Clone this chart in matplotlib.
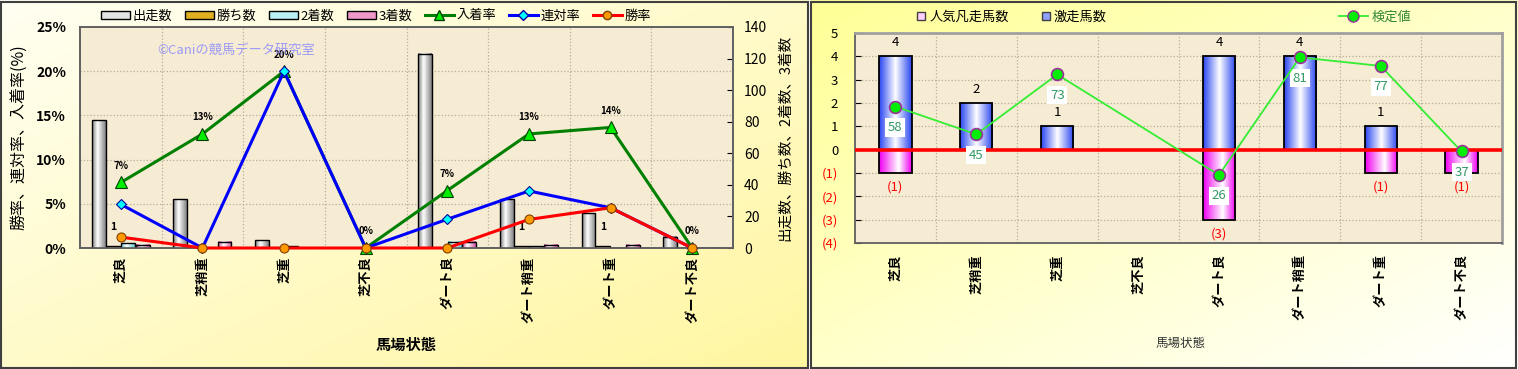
import numpy as np
import matplotlib
matplotlib.use('Agg')
import matplotlib.pyplot as plt
from matplotlib.colors import LinearSegmentedColormap, to_rgb
from matplotlib.patches import Patch, Rectangle
from matplotlib.lines import Line2D

plt.rcParams['font.family'] = ['Noto Sans CJK JP', 'DejaVu Sans']

# data
cats = ['芝良', '芝稍重', '芝重', '芝不良', 'ダート良', 'ダート稍重', 'ダート重', 'ダート不良']
starts = [81, 31, 5, 0, 123, 31, 22, 7]
wins = [1, 0, 0, 0, 0, 1, 1, 0]
seconds = [3, 0, 1, 0, 4, 1, 0, 0]
thirds = [2, 4, 0, 0, 4, 2, 2, 0]
place_rate = [7.41, 12.90, 20.00, 0.0, 6.50, 12.90, 13.64, 0.0]
quinella_rate = [4.94, 0.0, 20.00, 0.0, 3.25, 6.45, 4.55, 0.0]
win_rate = [1.23, 0.0, 0.0, 0.0, 0.0, 3.23, 4.55, 0.0]

gekiso = [4, 2, 1, 0, 4, 4, 1, 0]
bonso = [1, 0, 0, 0, 3, 0, 1, 1]
kentei = [58, 45, 73, None, 26, 81, 77, 37]

W, H = 1518, 369
fig = plt.figure(figsize=(W / 100, H / 100), dpi=100)


def grad_img(c_tl, c_br, n=200):
    a, b = np.array(to_rgb(c_tl)), np.array(to_rgb(c_br))
    xx, yy = np.meshgrid(np.linspace(0, 1, n), np.linspace(0, 1, n))
    t = ((xx + yy) / 2)[..., None]
    return a * (1 - t) + b * t


bg = fig.add_axes([0, 0, 1, 1], zorder=-10)
bg.axis('off')
bg.imshow(grad_img('#fffff2', '#fff6a0'), extent=(0, 809 / W, 0, 1), aspect='auto', origin='upper')
bg.imshow(grad_img('#ffff96', '#ffffff'), extent=(811 / W, 1, 0, 1), aspect='auto', origin='upper')
bg.set_xlim(0, 1)
bg.set_ylim(0, 1)
bg.add_patch(Rectangle((1 / W, 1 / H), 807 / W, 366 / H, fill=False, ec='#404040', lw=1.5))
bg.add_patch(Rectangle((811 / W, 1 / H), 705 / W, 366 / H, fill=False, ec='#404040', lw=1.5))


def shade(ax, bars, edge, mid='white', pos=0.45):
    cm = LinearSegmentedColormap.from_list('g', [(0, edge), (pos, mid), (1, edge)])
    g = np.linspace(0, 1, 64)[None, :]
    for b in bars:
        x0, y0 = b.get_xy()
        w, h = b.get_width(), b.get_height()
        if h == 0:
            continue
        ax.imshow(g, cmap=cm, extent=(x0, x0 + w, y0, y0 + h), aspect='auto',
                  zorder=b.get_zorder() - 0.05, interpolation='bilinear')


x = np.arange(len(cats))
plot_bg = '#f6ebd3'
grid_c = '#b8ae98'

# ---------------- left chart ----------------
ax1 = fig.add_axes([80 / W, 1 - 248 / H, 653 / W, 221 / H])
ax1.set_facecolor(plot_bg)
ax1r = ax1.twinx()
cnt_max, rate_max = 140, 25

for b in np.arange(0.5, 7.5, 1):
    ax1.axvline(b, color=grid_c, ls=':', lw=0.9, zorder=1)
for t in range(5, rate_max, 5):
    ax1.axhline(t * cnt_max / rate_max, color=grid_c, ls=':', lw=0.9, zorder=1)

bw = 0.17
series = [(starts, -0.27, '#808080'), (wins, -0.09, '#b08000'),
          (seconds, 0.09, '#60c8d0'), (thirds, 0.27, '#d050a0')]
for vals, off, col in series:
    bars = ax1.bar(x + off, vals, bw, facecolor='none', edgecolor='black', lw=1, zorder=3)
    shade(ax1, bars, col, mid='white' if col != '#b08000' else '#ffd040', pos=0.4)

for i, w_ in enumerate(wins):
    if w_ > 0:
        ax1.annotate(str(w_), (x[i] - 0.09, w_), xytext=(0, 14), textcoords='offset points',
                     ha='center', va='center', fontsize=7.5, fontweight='bold')

ax1.set_xlim(-0.5, 7.5)
ax1.set_ylim(0, cnt_max)
ax1.set_yticks(range(0, cnt_max + 1, 20))
ax1.yaxis.tick_right()
ax1.yaxis.set_label_position('right')
ax1.tick_params(axis='y', direction='in', length=4, labelsize=10, pad=8)
ax1.set_ylabel('出走数、勝ち数、2着数、3着数', fontsize=10.5, labelpad=8)
ax1.set_xticks(x, cats, rotation=90, fontweight='bold', fontsize=9.5)
ax1.tick_params(axis='x', length=0, pad=6)

ax1r.plot(x, place_rate, color='#008000', lw=2.2, marker='^', ms=8, mfc='#00ee00',
          mec='#004000', mew=0.8, zorder=3, clip_on=False)
ax1r.plot(x, quinella_rate, color='#0000ff', lw=2.2, marker='D', ms=5.5, mfc='#00ffff',
          mec='#0000a0', mew=0.8, zorder=4, clip_on=False)
ax1r.plot(x, win_rate, color='#ff0000', lw=2.2, marker='o', ms=6.5, mfc='#ff9900',
          mec='#804000', mew=0.8, zorder=5, clip_on=False)
for i, v in enumerate(place_rate):
    ax1r.annotate(f'{int(v + 0.5)}%', (x[i], v), xytext=(0, 12), textcoords='offset points',
                  ha='center', va='center', fontsize=7, fontweight='bold')
ax1r.set_ylim(0, rate_max)
ax1r.set_yticks(range(0, rate_max + 1, 5), [f'{t}%' for t in range(0, rate_max + 1, 5)])
ax1r.yaxis.tick_left()
ax1r.yaxis.set_label_position('left')
ax1r.tick_params(axis='y', length=0, labelsize=10, pad=10)
for lab in ax1r.get_yticklabels():
    lab.set_fontweight('bold')
ax1r.set_ylabel('勝率、連対率、入着率(%)', fontsize=11.5, labelpad=6)
ax1r.text(0.118, 0.896, '©Caniの競馬データ研究室', transform=ax1r.transAxes, color='#8c8cff',
          alpha=0.85, fontsize=9.5, va='center', zorder=10)
for a in (ax1, ax1r):
    for s in a.spines.values():
        s.set_color('#606060')
        s.set_linewidth(1.2)

fig.text(406 / W, 1 - 345 / H, '馬場状態', fontsize=11, fontweight='bold', ha='center', va='center')

h1 = [Patch(fc='#e4e4e4', ec='black', lw=1), Patch(fc='#e0b020', ec='black', lw=1),
      Patch(fc='#b8f0f4', ec='black', lw=1), Patch(fc='#f098c8', ec='black', lw=1),
      Line2D([], [], color='#008000', lw=2.2, marker='^', ms=7, mfc='#00ee00', mec='#004000'),
      Line2D([], [], color='#0000ff', lw=2.2, marker='D', ms=5, mfc='#00ffff', mec='#0000a0'),
      Line2D([], [], color='#ff0000', lw=2.2, marker='o', ms=6, mfc='#ff9900', mec='#804000')]
fig.legend(h1, ['出走数', '勝ち数', '2着数', '3着数', '入着率', '連対率', '勝率'], ncol=7,
           loc='center', bbox_to_anchor=(376 / W, 1 - 16 / H), frameon=False, fontsize=9.5,
           handlelength=2.2, handleheight=0.55, columnspacing=0.9, handletextpad=0.25)

# ---------------- right chart ----------------
ax2 = fig.add_axes([855 / W, 1 - 243 / H, 647 / W, 210 / H])
ax2.set_facecolor(plot_bg)
for b in np.arange(0.5, 7.5, 1):
    ax2.axvline(b, color=grid_c, ls=':', lw=0.9, zorder=1)
for t in range(-3, 5):
    ax2.axhline(t, color=grid_c, ls=':', lw=0.9, zorder=1)

neg = [-n for n in bonso]
b_pos = ax2.bar(x, gekiso, 0.4, facecolor='none', edgecolor='black', lw=1.3, zorder=3)
b_neg = ax2.bar(x, neg, 0.4, facecolor='none', edgecolor='black', lw=1.3, zorder=3)
shade(ax2, b_pos, '#2a46f0', pos=0.5)
shade(ax2, b_neg, '#f000f0', pos=0.6)
ax2.axhline(0, color='#ff0000', lw=2.6, zorder=4)
for i in range(len(cats)):
    if gekiso[i] > 0:
        ax2.annotate(str(gekiso[i]), (x[i], gekiso[i]), xytext=(0, 10), textcoords='offset points',
                     ha='center', va='center', fontsize=9.5)
    if bonso[i] > 0:
        ax2.annotate(f'({bonso[i]})', (x[i], neg[i]), xytext=(0, -10), textcoords='offset points',
                     ha='center', va='center', fontsize=9.5, color='#ff0000')

ax2.set_xlim(-0.5, 7.5)
ax2.set_ylim(-4, 5)
yt = list(range(-4, 6))
ax2.set_yticks(yt, [f'({-t})' if t < 0 else str(t) for t in yt])
for lab, t in zip(ax2.get_yticklabels(), yt):
    if t < 0:
        lab.set_color('#ff0000')
ax2.tick_params(axis='y', direction='in', length=4, labelsize=9.5, pad=12)
ax2.set_xticks(x, cats, rotation=90, fontweight='bold', fontsize=9.5)
ax2.tick_params(axis='x', length=0, pad=8)
for k, s in ax2.spines.items():
    s.set_color('#606060' if k in ('left', 'bottom') else '#a0a0a0')
    s.set_linewidth(1.3 if k in ('left', 'bottom') else 2)

ax2t = ax2.twinx()
kx = [i for i, v in enumerate(kentei) if v is not None]
kv = [kentei[i] for i in kx]
ax2t.plot(kx, kv, color='#33ee33', lw=1.3, marker='o', ms=8.5, mfc='#00ee00',
          mec='#993399', mew=1.2, zorder=5)
for i, v in zip(kx, kv):
    ax2t.annotate(str(v), (i, v), xytext=(0, -15), textcoords='offset points', ha='center',
                  va='center', fontsize=9.5, color='#339966',
                  bbox=dict(boxstyle='square,pad=0.2', fc='white', ec='none'))
ax2t.set_ylim(-5.8, 92.4)
ax2t.set_yticks([])
for s in ax2t.spines.values():
    s.set_visible(False)

fig.text(1181 / W, 1 - 343 / H, '馬場状態', fontsize=9, color='#333333', ha='center', va='center')

h2 = [Patch(fc='#ffd0ff', ec='#404040', lw=1), Patch(fc='#90a0ff', ec='#404040', lw=1)]
fig.legend(h2, ['人気凡走馬数', '激走馬数'], ncol=2, loc='center',
           bbox_to_anchor=(1012 / W, 1 - 17 / H), frameon=False, fontsize=9.5,
           handlelength=0.6, handleheight=0.6, columnspacing=2.5, handletextpad=0.3)
h3 = [Line2D([], [], color='#33ee33', lw=1.3, marker='o', ms=8, mfc='#00ee00', mec='#993399')]
leg3 = fig.legend(h3, ['検定値'], loc='center', bbox_to_anchor=(1375 / W, 1 - 17 / H),
                  frameon=False, fontsize=9.5, handlelength=2.2, handletextpad=0.3)
for t in leg3.get_texts():
    t.set_color('#338833')

fig.savefig('out.png', dpi=100)
